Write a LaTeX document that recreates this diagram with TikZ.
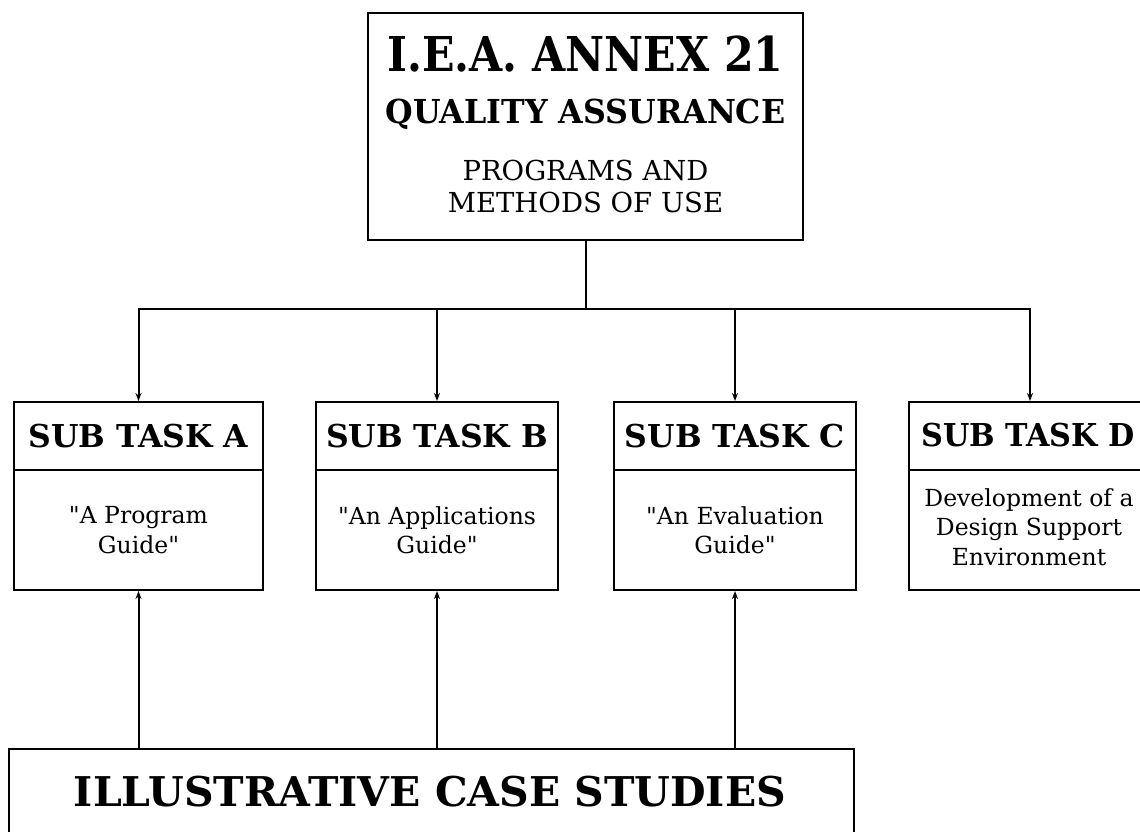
\documentclass[tikz,border=0pt]{standalone}
\usepackage{fontspec}
\setmainfont{DejaVu Serif}
\usetikzlibrary{arrows.meta}
\tikzset{
  hdr/.style={draw, line width=2pt, inner sep=0pt, anchor=north west, minimum width=242pt, minimum height=68pt,
     font=\fontsize{31.5}{36}\selectfont\bfseries},
  bodybox/.style={draw, line width=2pt, inner sep=0pt, anchor=north west, minimum width=242pt, minimum height=120pt},
  bodytxt/.style={inner sep=0pt, align=center, font=\fontsize{23.5}{29.5}\selectfont},
  conn/.style={line width=2pt},
  arr/.style={line width=2pt, -{Stealth[length=8pt,width=6pt]}},
  txt/.style={inner sep=0pt, align=center}
}
\begin{document}
\begin{tikzpicture}[x=1pt,y=-1pt]
\useasboundingbox (0,0) rectangle (1140,831);
\clip (0,0) rectangle (1140,831);
% top box
\node[draw, line width=2pt, minimum width=435pt, minimum height=227pt, inner sep=0pt] (top) at (585.5,126.5) {};
\node[txt, font=\fontsize{48}{52}\selectfont\bfseries] (t1) at (585.5,54) {\scalebox{0.89}[1]{I.E.A. ANNEX 21}};
\node[txt, font=\fontsize{33}{36}\selectfont\bfseries] (t2) at (585.5,114) {\scalebox{0.96}[1]{QUALITY ASSURANCE}};
\node[txt, font=\fontsize{27.5}{32}\selectfont] (t3) at (585.5,186) {PROGRAMS AND\\METHODS OF USE};
% sub tasks
\node[hdr, minimum width=249pt] (hA) at (13,401) {SUB TASK A};
\node[bodybox, minimum width=249pt] (bA) at (13,469) {};
\node[bodytxt] (tA) at (bA.center) {\textquotedbl A Program\\Guide\textquotedbl};
\node[hdr] (hB) at (315,401) {SUB TASK B};
\node[bodybox] (bB) at (315,469) {};
\node[bodytxt] (tB) at (bB.center) {\textquotedbl An Applications\\Guide\textquotedbl};
\node[hdr] (hC) at (613,401) {SUB TASK C};
\node[bodybox] (bC) at (613,469) {};
\node[bodytxt] (tC) at (bC.center) {\textquotedbl An Evaluation\\Guide\textquotedbl};
\node[hdr] (hD) at (908,401) {};
\node[txt, font=\fontsize{31.5}{36}\selectfont\bfseries] (hDt) at (1028,435) {\scalebox{0.96}[1]{SUB TASK D}};
\node[bodybox] (bD) at (908,469) {};
\node[bodytxt] (tD) at (1029,527) {Development of a\\Design Support\\Environment};
% bottom box
\node[draw, line width=2pt, anchor=north west, minimum width=845pt, minimum height=150pt, inner sep=0pt] (case) at (8,748) {};
\node[txt, font=\fontsize{41}{44}\selectfont\bfseries] (ct) at (430,792) {ILLUSTRATIVE CASE STUDIES};
% connectors
\coordinate (j) at (585.5,309);
\draw[conn] (top.south) -- (j);
\draw[arr] (j) -| (hA.north);
\draw[arr] (j) -| (hB.north);
\draw[arr] (j) -| (hC.north);
\draw[arr] (j) -| (hD.north);
\draw[arr] (case.north -| bA.south) -- (bA.south);
\draw[arr] (case.north -| bB.south) -- (bB.south);
\draw[arr] (case.north -| bC.south) -- (bC.south);
\end{tikzpicture}
\end{document}
